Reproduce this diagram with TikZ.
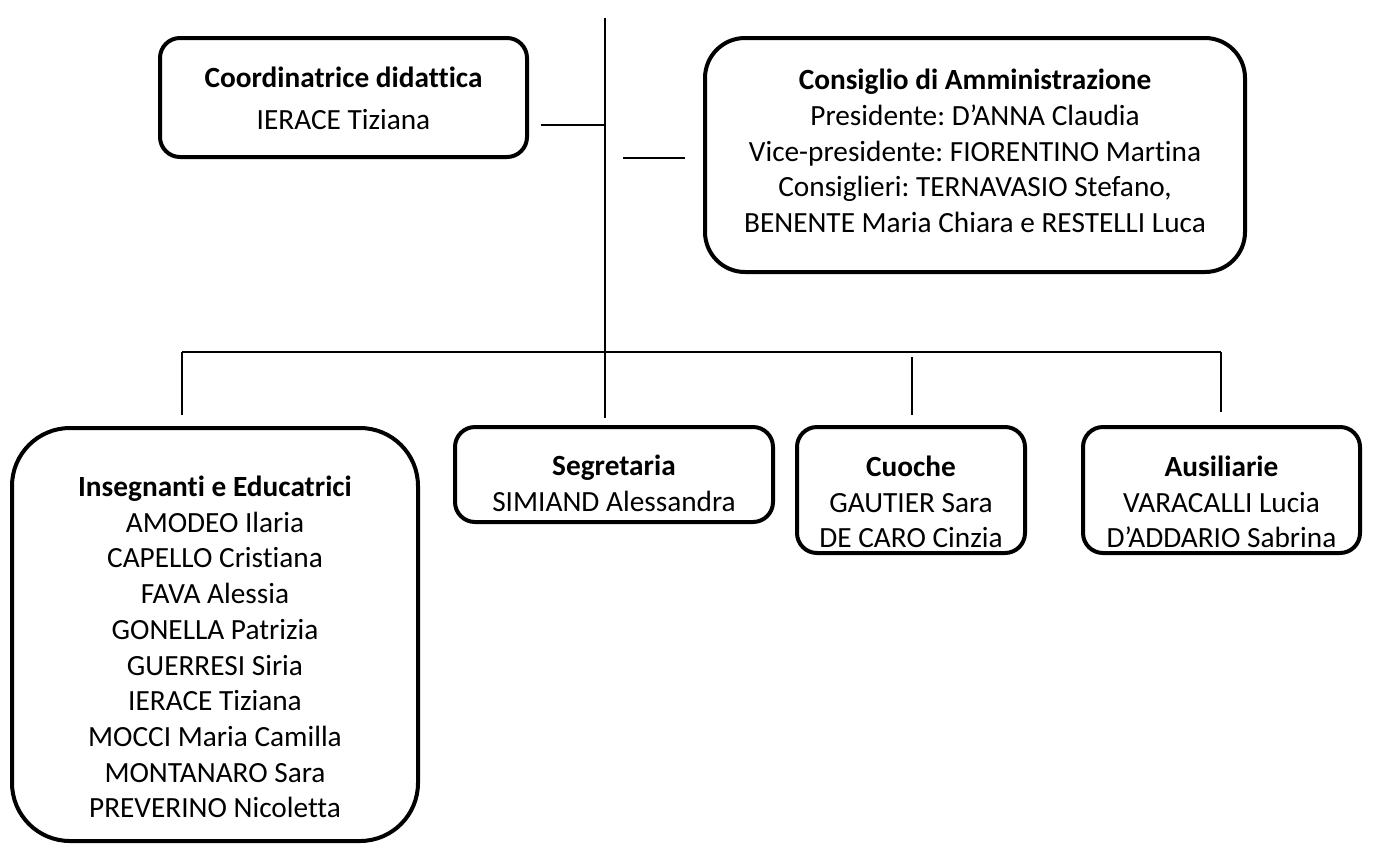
\documentclass[tikz,border=0pt]{standalone}
\usepackage{fontspec}
\setmainfont{Carlito}[Ligatures=NoCommon]
\frenchspacing
\tikzset{
  frame/.style = {draw = black, line width = 4pt, rounded corners = 20pt, inner sep = 0pt},
  names/.style = {align = center, inner sep = 0pt, font = \fontsize{29.3}{35.7}\selectfont},
  link/.style = {draw = black, line width = 1.3pt}
}
\begin{document}
\begin{tikzpicture}[x = 1pt, y = -1pt]
\useasboundingbox (0,0) rectangle (1375,844);
\node[frame, minimum width = 367, minimum height = 119] (coord) at (343.5,97.5) {};
\node[names] (coord-t) at (343.5,98) {\textbf{Coordinatrice didattica}\\[6pt]IERACE Tiziana};
\node[frame, rounded corners = 40pt, minimum width = 540, minimum height = 234] (cda) at (975,155) {};
\node[names] (cda-t) at (975,151) {\textbf{Consiglio di Amministrazione}\\Presidente: D’ANNA Claudia\\Vice-presidente: FIORENTINO Martina\\Consiglieri: TERNAVASIO Stefano,\\BENENTE Maria Chiara e RESTELLI Luca};
\node[frame, rounded corners = 58pt, minimum width = 406, minimum height = 413] (ins) at (215,634.5) {};
\node[names] (ins-t) at (215,647) {\textbf{Insegnanti e Educatrici}\\AMODEO Ilaria\\CAPELLO Cristiana\\FAVA Alessia\\GONELLA Patrizia\\GUERRESI Siria\\IERACE Tiziana\\MOCCI Maria Camilla\\MONTANARO Sara\\PREVERINO Nicoletta};
\node[frame, minimum width = 318, minimum height = 95] (segr) at (614,474.5) {};
\node[names] (segr-t) at (614,483.5) {\textbf{Segretaria}\\SIMIAND Alessandra};
\node[frame, minimum width = 228, minimum height = 126] (cuoc) at (911,490) {};
\node[names] (cuoc-t) at (911,502) {\textbf{Cuoche}\\GAUTIER Sara\\DE CARO Cinzia};
\node[frame, minimum width = 277, minimum height = 126] (ausi) at (1221.5,490) {};
\node[names] (ausi-t) at (1221.5,502) {\textbf{Ausiliarie}\\VARACALLI Lucia\\D’ADDARIO Sabrina};
\coordinate (top) at (605,18);
\coordinate (hub) at (605,352);
\coordinate (coord-r) at (541,125);
\coordinate (cda-l) at (623,158);
\coordinate (cda-j) at (685,158);
\coordinate (bus-ins) at (182,352);
\coordinate (bus-cuoc) at (912,357);
\coordinate (bus-ausi) at (1221,352);
\coordinate (end-ins) at (182,415);
\coordinate (end-segr) at (605,418);
\coordinate (end-cuoc) at (912,415);
\coordinate (end-ausi) at (1221,412);
\draw[link] (top) -- (hub);
\draw[link] (coord-r) -- (coord-r -| hub);
\draw[link] (cda-l) -- (cda-j);
\draw[link] (bus-ins) -- (bus-ausi);
\draw[link] (bus-ins) -- (end-ins);
\draw[link] (hub) -- (end-segr);
\draw[link] (bus-cuoc) -- (end-cuoc);
\draw[link] (bus-ausi) -- (end-ausi);
\end{tikzpicture}
\end{document}
